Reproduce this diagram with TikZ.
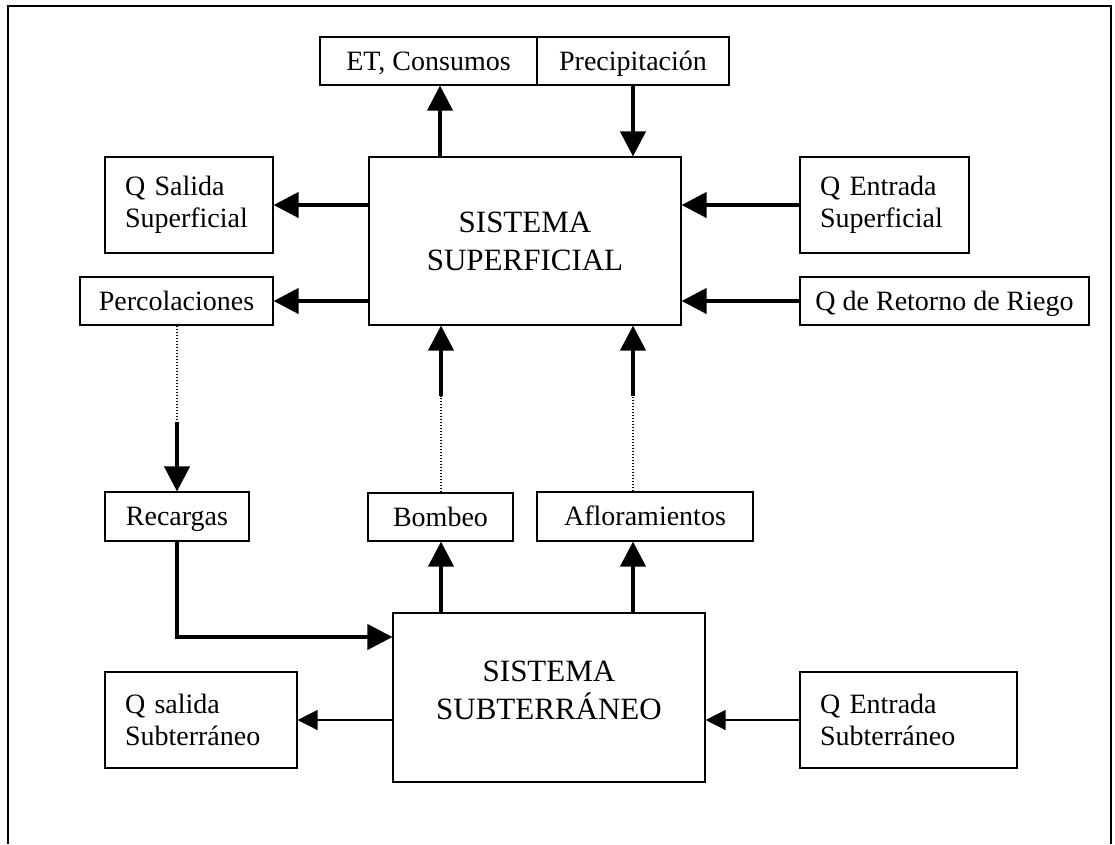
\documentclass[tikz,border=0pt]{standalone}
\usepackage{fontspec}
\setmainfont{Liberation Serif}
\usetikzlibrary{arrows.meta,calc}
\begin{document}
\begin{tikzpicture}[x=1pt,y=-1pt,
  lbl/.style={draw=black, line width=1.1pt, rectangle, inner sep=0pt,
    font=\fontsize{28}{32}\selectfont, text height=18.5pt, text depth=0pt},
  twoline/.style={draw=black, line width=1.1pt, rectangle, inner xsep=20pt, inner ysep=0pt,
    align=left, font=\fontsize{28}{32}\selectfont},
  bigbox/.style={draw=black, line width=1.1pt, rectangle, inner sep=0pt, align=center,
    font=\fontsize{31}{38}\selectfont},
  flowthick/.style={line width=4pt, -{Triangle[length=25pt,width=25pt]}},
  flowthin/.style={line width=1.3pt, -{Triangle[length=20pt,width=20pt]}},
  dotline/.style={line width=1.4pt, dash pattern=on 1.5pt off 1.5pt}
]
\useasboundingbox (0,0) rectangle (1115,844);
\draw[line width=1.3pt] (8,844) -- (8,6) -- (1111,6) -- (1111,844);

% nodes
\node[lbl, minimum width=217pt, minimum height=48pt] (ET) at (428.5,61) {ET, Consumos};
\node[lbl, minimum width=192pt, minimum height=48pt] (PRE) at (633,61) {Precipitación};
\node[bigbox, minimum width=312pt, minimum height=168pt] (SUP) at (525,241) {SISTEMA\\SUPERFICIAL};
\node[twoline, text width=128pt, minimum height=96pt] (QSAL) at (189,205) {Q Salida\\Superficial};
\node[lbl, minimum width=193pt, minimum height=48pt] (PER) at (176.5,301) {Percolaciones};
\node[twoline, text width=129pt, minimum height=96pt] (QENT) at (884.5,205) {Q Entrada\\Superficial};
\node[lbl, minimum width=289pt, minimum height=48pt] (RET) at (944.5,301) {Q de Retorno de Riego};
\node[lbl, minimum width=144pt, minimum height=49pt] (REC) at (177,516.5) {Recargas};
\node[lbl, minimum width=145pt, minimum height=48pt] (BOM) at (440.5,517) {Bombeo};
\node[lbl, minimum width=216pt, minimum height=49pt] (AFL) at (645,516.5) {Afloramientos};
\node[bigbox, minimum width=312pt, minimum height=169pt, text depth=14pt] (SUB) at (549,697.5) {SISTEMA\\SUBTERRÁNEO};
\node[twoline, text width=152pt, minimum height=96pt] (QSSUB) at (201,720) {Q salida\\Subterráneo};
\node[twoline, text width=177pt, minimum height=96pt] (QESUB) at (908.5,720) {Q Entrada\\Subterráneo};

% helper coordinates
\coordinate (ex) at (440,0);
\coordinate (bmid) at (441,396);
\coordinate (amid) at (633,396);
\coordinate (pmid) at (177,422);
\coordinate (rcorner) at (177,637);

% top
\draw[flowthick] (SUP.north -| ex) -- (ET.south -| ex);
\draw[flowthick] (PRE.south -| amid) -- (SUP.north -| amid);
% left / right of superficial
\draw[flowthick] (SUP.west |- QSAL.east) -- (QSAL.east);
\draw[flowthick] (SUP.west |- PER.east) -- (PER.east);
\draw[flowthick] (QENT.west) -- (QENT.west -| SUP.east);
\draw[flowthick] (RET.west) -- (RET.west -| SUP.east);
% percolaciones -> recargas
\draw[dotline] (PER.south -| pmid) -- (pmid);
\draw[flowthick] (pmid) -- (pmid |- REC.north);
% bombeo / afloramientos -> superficial
\draw[dotline] (BOM.north -| bmid) -- (bmid);
\draw[flowthick] (bmid) -- (bmid |- SUP.south);
\draw[dotline] (AFL.north -| amid) -- (amid);
\draw[flowthick] (amid) -- (amid |- SUP.south);
% subterraneo connections
\draw[flowthick] (REC.south -| rcorner) -- (rcorner) -- (rcorner -| SUB.west);
\draw[flowthick] (SUB.north -| bmid) -- (bmid |- BOM.south);
\draw[flowthick] (SUB.north -| amid) -- (amid |- AFL.south);
\draw[flowthin] (SUB.west |- QSSUB.east) -- (QSSUB.east);
\draw[flowthin] (QESUB.west) -- (QESUB.west -| SUB.east);
\end{tikzpicture}
\end{document}
